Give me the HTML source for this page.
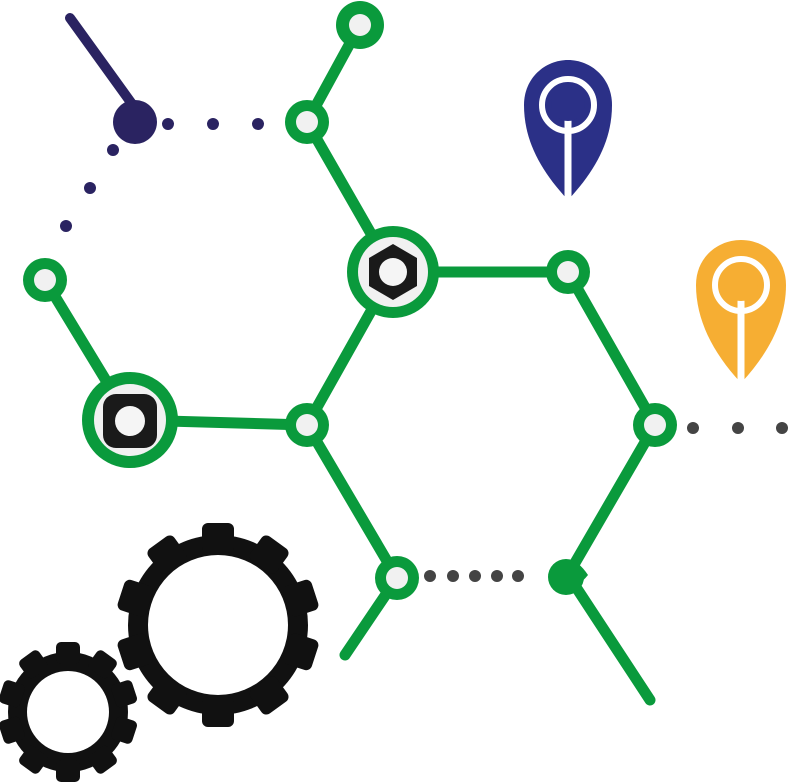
<!DOCTYPE html>
<html><head><meta charset="utf-8"><style>html,body{margin:0;padding:0;background:#fff}svg{display:block}</style></head>
<body>
<svg width="790" height="784" viewBox="0 0 790 784" xmlns="http://www.w3.org/2000/svg">
<g stroke="#0a9a3c" stroke-width="11" stroke-linecap="round" fill="none">
<path d="M360 25 L307 122 L393 272 L568 272 L655 425 L568 575 L650 700"/>
<path d="M393 272 L307 425 L397 578 L345 655"/>
<path d="M307 425 L130 420 L45 280"/>
</g>
<g fill="#0a9a3c">
<circle cx="360" cy="25" r="24"/><circle cx="307" cy="122" r="22"/>
<circle cx="568" cy="272" r="22"/><circle cx="655" cy="425" r="22"/>
<circle cx="397" cy="578" r="22"/><circle cx="307" cy="425" r="22"/>
<circle cx="45" cy="280" r="22"/>
<circle cx="393" cy="272" r="46"/><circle cx="130" cy="420" r="48"/>
<path d="M548 575 Q568 545 588 575 Q568 600 548 575Z"/><circle cx="566" cy="577" r="18"/>
</g>
<g fill="#f1f1f1">
<circle cx="360" cy="25" r="11"/><circle cx="307" cy="122" r="11"/>
<circle cx="568" cy="272" r="11"/><circle cx="655" cy="425" r="11"/>
<circle cx="397" cy="578" r="11"/><circle cx="307" cy="425" r="11"/>
<circle cx="45" cy="280" r="11"/>
<circle cx="393" cy="272" r="35"/><circle cx="130" cy="420" r="36"/>
</g>
<polygon points="393,244 417,258 417,286 393,300 369,286 369,258" fill="#1a1a1a"/>
<circle cx="393" cy="272" r="14" fill="#f5f5f5"/>
<rect x="103" y="394" width="54" height="54" rx="13" fill="#1a1a1a"/>
<circle cx="130" cy="421" r="15" fill="#f5f5f5"/>
<g fill="#2a2361">
<path d="M70 18 L140 115" stroke="#2a2361" stroke-width="10" stroke-linecap="round"/>
<circle cx="135" cy="122" r="22"/>
<circle cx="168" cy="124" r="6"/><circle cx="213" cy="124" r="6"/><circle cx="258" cy="124" r="6"/>
<circle cx="113" cy="150" r="6"/><circle cx="90" cy="188" r="6"/><circle cx="66" cy="226" r="6"/>
</g>
<g fill="#444">
<circle cx="693" cy="428" r="6"/><circle cx="738" cy="428" r="6"/><circle cx="782" cy="428" r="6"/>
<circle cx="430" cy="576" r="6"/><circle cx="453" cy="576" r="6"/><circle cx="475" cy="576" r="6"/><circle cx="497" cy="576" r="6"/><circle cx="518" cy="576" r="6"/>
</g>
<g>
<path d="M568 200 C540 170 524 140 524 105 C524 78 545 60 568 60 C591 60 612 78 612 105 C612 140 596 170 568 200Z" fill="#2b3087"/>
<circle cx="568" cy="105" r="26" fill="none" stroke="#fff" stroke-width="6"/>
<path d="M568 120 L568 200" stroke="#fff" stroke-width="7"/>
<circle cx="568" cy="104" r="17" fill="#2b3087"/>
<path d="M741 383 C713 353 696 320 696 285 C696 258 717 240 741 240 C765 240 786 258 786 285 C786 320 769 353 741 383Z" fill="#f6ae33"/>
<circle cx="741" cy="285" r="26" fill="none" stroke="#fff" stroke-width="6"/>
<path d="M741 300 L741 383" stroke="#fff" stroke-width="7"/>
<circle cx="741" cy="284" r="17" fill="#f6ae33"/>
</g>
<g fill="#111">
<circle cx="218" cy="625" r="90"/>
<g transform="translate(218 625)">
<rect x="-16" y="-102" width="32" height="30" rx="6"/>
<rect x="-16" y="-102" width="32" height="30" rx="6" transform="rotate(36)"/>
<rect x="-16" y="-102" width="32" height="30" rx="6" transform="rotate(72)"/>
<rect x="-16" y="-102" width="32" height="30" rx="6" transform="rotate(108)"/>
<rect x="-16" y="-102" width="32" height="30" rx="6" transform="rotate(144)"/>
<rect x="-16" y="-102" width="32" height="30" rx="6" transform="rotate(180)"/>
<rect x="-16" y="-102" width="32" height="30" rx="6" transform="rotate(216)"/>
<rect x="-16" y="-102" width="32" height="30" rx="6" transform="rotate(252)"/>
<rect x="-16" y="-102" width="32" height="30" rx="6" transform="rotate(288)"/>
<rect x="-16" y="-102" width="32" height="30" rx="6" transform="rotate(324)"/>
</g>
<circle cx="68" cy="712" r="60"/>
<g transform="translate(68 712)">
<rect x="-12" y="-70" width="24" height="22" rx="5"/>
<rect x="-12" y="-70" width="24" height="22" rx="5" transform="rotate(36)"/>
<rect x="-12" y="-70" width="24" height="22" rx="5" transform="rotate(72)"/>
<rect x="-12" y="-70" width="24" height="22" rx="5" transform="rotate(108)"/>
<rect x="-12" y="-70" width="24" height="22" rx="5" transform="rotate(144)"/>
<rect x="-12" y="-70" width="24" height="22" rx="5" transform="rotate(180)"/>
<rect x="-12" y="-70" width="24" height="22" rx="5" transform="rotate(216)"/>
<rect x="-12" y="-70" width="24" height="22" rx="5" transform="rotate(252)"/>
<rect x="-12" y="-70" width="24" height="22" rx="5" transform="rotate(288)"/>
<rect x="-12" y="-70" width="24" height="22" rx="5" transform="rotate(324)"/>
</g>
</g>
<circle cx="218" cy="625" r="70" fill="#fff"/>
<circle cx="68" cy="712" r="41" fill="#fff"/>
</svg>
</body></html>
